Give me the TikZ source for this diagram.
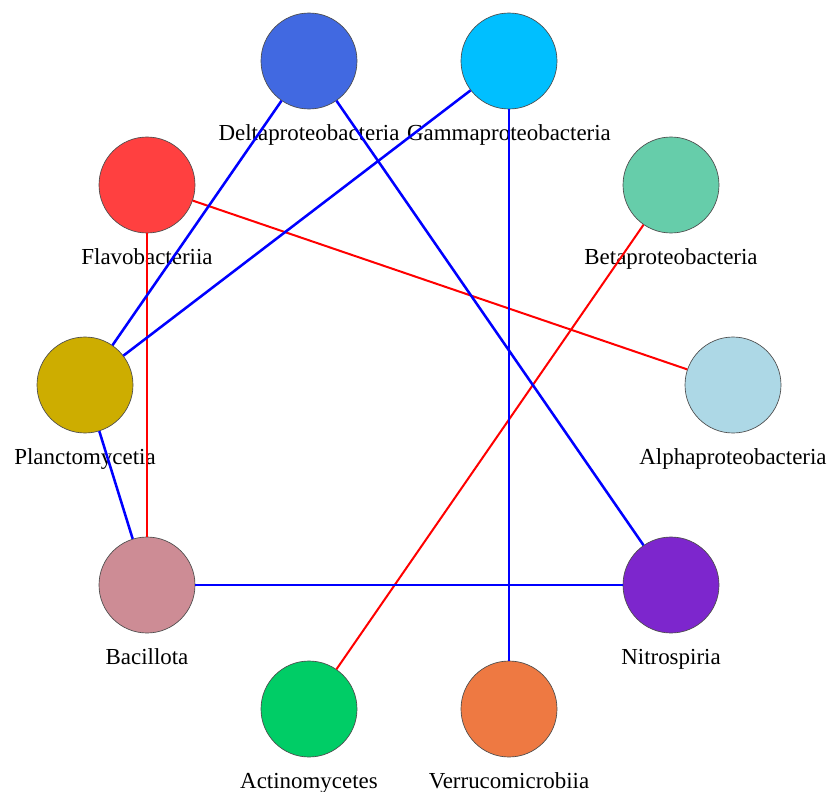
\documentclass[tikz,border=0pt]{standalone}
\usepackage{fontspec}
\setmainfont{Liberation Serif}
\usetikzlibrary{positioning}
\definecolor{royal}{HTML}{4169E1}
\definecolor{skyb}{HTML}{00BFFF}
\definecolor{flavo}{HTML}{FF4040}
\definecolor{aqua}{HTML}{66CDAA}
\definecolor{gold3}{HTML}{CDAD00}
\definecolor{lblue}{HTML}{ADD8E6}
\definecolor{pink3}{HTML}{CD8C95}
\definecolor{purple3}{HTML}{7D26CD}
\definecolor{spring3}{HTML}{00CD66}
\definecolor{sienna2}{HTML}{EE7942}
\tikzset{%
  taxon/.style={draw=black!70, line width=0.5pt, circle, minimum size=72pt, inner sep=0pt},% vertex
  tag/.style={inner sep=0pt, text height=0.7em, text depth=0.25em,
    font=\fontsize{17.2}{20}\selectfont},% vertex name
  redlink/.style={draw=red, line width=1.5pt},% positive link
  bluelink/.style={draw=blue, line width=1.9pt}% negative link
}
\begin{document}
\begin{tikzpicture}[x=0.75pt, y=-0.75pt, node distance=15.8pt]
  \useasboundingbox (0,0) rectangle (828,792);
  % The ten classes on a circle:
  \node[taxon, fill=lblue] (alpha) at (733,385) {};
  \node[taxon, fill=aqua] (beta) at (671,185) {};
  \node[taxon, fill=skyb] (gamma) at (509,61) {};
  \node[taxon, fill=royal] (delta) at (309,61) {};
  \node[taxon, fill=flavo] (flavo) at (147,185) {};
  \node[taxon, fill=gold3] (plancto) at (85,385) {};
  \node[taxon, fill=pink3] (bacil) at (147,585) {};
  \node[taxon, fill=spring3] (actino) at (309,709) {};
  \node[taxon, fill=sienna2] (verruco) at (509,709) {};
  \node[taxon, fill=purple3] (nitro) at (671,585) {};
  % Names under the circles:
  \node[tag, below=of alpha] (alphaT) {Alphaproteobacteria};
  \node[tag, below=of beta] (betaT) {Betaproteobacteria};
  \node[tag, below=of gamma] (gammaT) {Gammaproteobacteria};
  \node[tag, below=of delta] (deltaT) {Deltaproteobacteria};
  \node[tag, below=of flavo] (flavoT) {Flavobacteriia};
  \node[tag, below=of plancto] (planctoT) {Planctomycetia};
  \node[tag, below=of bacil] (bacilT) {Bacillota};
  \node[tag, below=of actino] (actinoT) {Actinomycetes};
  \node[tag, below=of verruco] (verrucoT) {Verrucomicrobiia};
  \node[tag, below=of nitro] (nitroT) {Nitrospiria};
  % Links between the classes:
  \draw[redlink] (flavo) -- (alpha);
  \draw[redlink] (flavo) -- (bacil);
  \draw[redlink] (beta) -- (actino);
  \draw[bluelink] (delta) -- (plancto);
  \draw[bluelink] (gamma) -- (plancto);
  \draw[bluelink] (delta) -- (nitro);
  \draw[bluelink] (gamma) -- (verruco);
  \draw[bluelink] (plancto) -- (bacil);
  \draw[bluelink] (bacil) -- (nitro);
\end{tikzpicture}
\end{document}
